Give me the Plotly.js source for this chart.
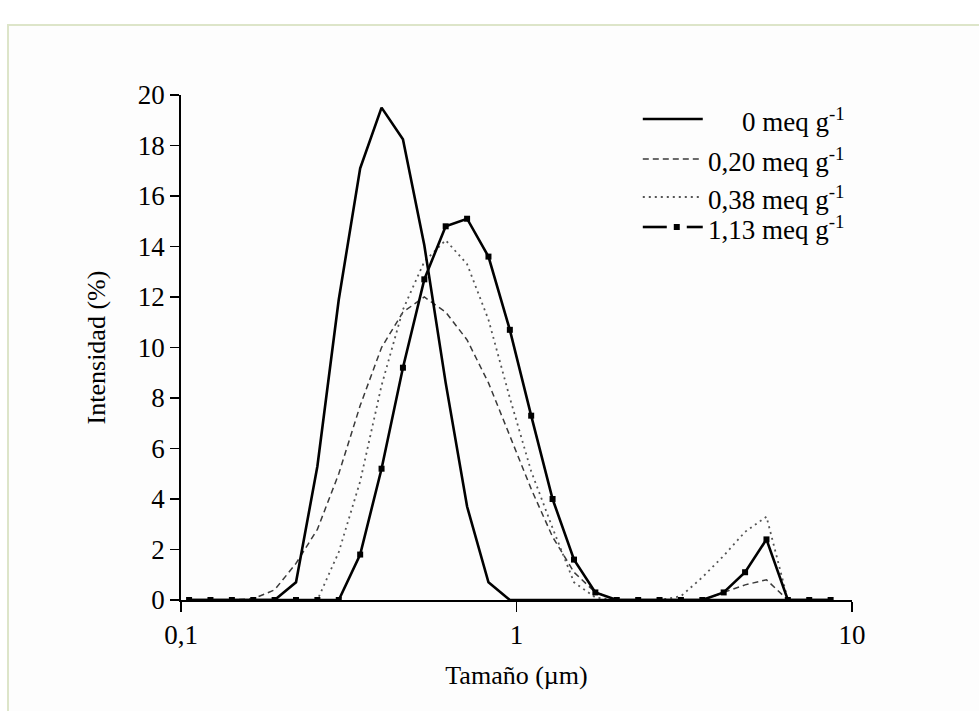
<!DOCTYPE html>
<html><head><meta charset="utf-8">
<script src="https://cdn.plot.ly/plotly-3.0.1.min.js"></script>
<style>
html,body{margin:0;padding:0;background:#fff;overflow:hidden;}
#frame{position:absolute;left:7px;top:24px;width:1100px;height:900px;border:2px solid #dde5c9;background:#fdfdfd;box-sizing:border-box;}
#chart{position:absolute;left:0;top:0;width:979px;height:711px;}
</style></head><body>
<div id="frame"></div><div id="chart"></div>
<script>
// Particle size bins (µm)
const sizes = [0.1057, 0.1224, 0.1418, 0.1642, 0.1901, 0.2202, 0.2550, 0.2953, 0.3420, 0.3961,
               0.4587, 0.5312, 0.6151, 0.7124, 0.8250, 0.9554, 1.106, 1.281, 1.484, 1.718,
               1.990, 2.305, 2.669, 3.091, 3.580, 4.145, 4.801, 5.560, 6.439, 7.456, 8.635];
// Intensity (%) for each series
const int_0    = [0, 0, 0, 0, 0, 0.7, 5.3, 11.9, 17.1, 19.5,
                  18.25, 14.05, 8.6, 3.7, 0.7, 0, 0, 0, 0, 0,
                  0, 0, 0, 0, 0, 0, 0, 0, 0, 0, 0];
const int_020  = [0, 0, 0, 0.05, 0.4, 1.45, 2.8, 5.0, 7.7, 10.0,
                  11.4, 12.0, 11.4, 10.3, 8.6, 6.5, 4.4, 2.5, 1.1, 0.3,
                  0, 0, 0, 0, 0, 0.3, 0.6, 0.8, 0, 0, 0];
const int_038  = [0, 0, 0, 0, 0, 0, 0, 1.9, 4.7, 8.5,
                  11.5, 13.4, 14.25, 13.3, 11.1, 8.0, 5.1, 2.85, 0.7, 0.1,
                  0, 0, 0, 0.15, 0.9, 1.75, 2.7, 3.3, 0, 0, 0];
const int_113  = [0, 0, 0, 0, 0, 0, 0, 0, 1.8, 5.2,
                  9.2, 12.7, 14.8, 15.1, 13.6, 10.7, 7.3, 4.0, 1.6, 0.3,
                  0, 0, 0, 0, 0, 0.3, 1.1, 2.4, 0, 0, 0];
const seriesNames = ['0 meq g<sup>-1</sup>', '0,20 meq g<sup>-1</sup>', '0,38 meq g<sup>-1</sup>', '1,13 meq g<sup>-1</sup>'];
const xTickVals = [0.1, 1, 10];
const xTickText = ['0,1', '1', '10'];
const xTitle = 'Tamaño (µm)';
const yTitle = 'Intensidad (%)';

const FONT = 'Liberation Serif, Times New Roman, serif';
const L = 181, R = 852.3, T = 95, B = 600;
const px = x => (x - L) / (R - L);
const py = y => (B - y) / (B - T);

const traces = [
  {x: sizes, y: int_020, mode: 'lines', line: {color: '#3a3a3a', width: 1.5, dash: '6px,4px'}},
  {x: sizes, y: int_038, mode: 'lines', line: {color: '#555', width: 1.8, dash: '2px,4px'}},
  {x: sizes, y: int_0, mode: 'lines', line: {color: '#000', width: 2.6}},
  {x: sizes, y: int_113, mode: 'lines+markers', line: {color: '#000', width: 2.6},
   marker: {symbol: 'square', size: 6, color: '#000'}}
];
traces.forEach(t => t.showlegend = false);

// custom legend
const legY = [119, 159, 197, 227];
const shapes = [
  {type: 'line', xref: 'paper', yref: 'paper', x0: px(643), x1: px(703), y0: py(legY[0]), y1: py(legY[0]), line: {color: '#000', width: 2.6}},
  {type: 'line', xref: 'paper', yref: 'paper', x0: px(643), x1: px(701), y0: py(legY[1]), y1: py(legY[1]), line: {color: '#3a3a3a', width: 1.5, dash: '6px,4px'}},
  {type: 'line', xref: 'paper', yref: 'paper', x0: px(643), x1: px(701), y0: py(legY[2]), y1: py(legY[2]), line: {color: '#555', width: 1.8, dash: '2px,4px'}},
  {type: 'line', xref: 'paper', yref: 'paper', x0: px(643), x1: px(667), y0: py(legY[3]), y1: py(legY[3]), line: {color: '#000', width: 2.6}},
  {type: 'line', xref: 'paper', yref: 'paper', x0: px(687), x1: px(703), y0: py(legY[3]), y1: py(legY[3]), line: {color: '#000', width: 2.6}},
  {type: 'rect', xref: 'paper', yref: 'paper', x0: px(674), x1: px(680), y0: py(legY[3] + 3), y1: py(legY[3] - 3), line: {width: 0}, fillcolor: '#000'}
];
const annotations = seriesNames.map((n, i) => ({
  xref: 'paper', yref: 'paper', x: px(847), y: py(legY[i] + 1), xanchor: 'right', yanchor: 'middle',
  text: n, showarrow: false, font: {family: FONT, size: 27, color: '#000'}
}));

const layout = {
  width: 979, height: 711,
  margin: {l: L, r: 979 - R, t: T, b: 711 - B, pad: 0},
  paper_bgcolor: 'rgba(0,0,0,0)', plot_bgcolor: 'rgba(0,0,0,0)',
  showlegend: false,
  font: {family: FONT, size: 26, color: '#000'},
  xaxis: {
    type: 'log', range: [-1, 1], tickvals: xTickVals, ticktext: xTickText,
    ticks: 'outside', ticklen: 10, tickwidth: 1.5, tickcolor: '#000',
    showline: true, linewidth: 1.8, linecolor: '#000', showgrid: false, zeroline: false,
    tickfont: {family: FONT, size: 27, color: '#000'},
    title: {text: xTitle, font: {family: FONT, size: 26, color: '#000'}, standoff: 16},
    automargin: false
  },
  yaxis: {
    range: [0, 20], tick0: 0, dtick: 2,
    ticks: 'outside', ticklen: 9, tickwidth: 1.5, tickcolor: '#000',
    showline: true, linewidth: 1.8, linecolor: '#000', showgrid: false, zeroline: false,
    tickfont: {family: FONT, size: 27, color: '#000'},
    title: {text: yTitle, font: {family: FONT, size: 26, color: '#000'}, standoff: 25},
    automargin: false
  },
  shapes: shapes,
  annotations: annotations
};
Plotly.newPlot('chart', traces, layout, {displayModeBar: false, staticPlot: true});
</script>
</body></html>
